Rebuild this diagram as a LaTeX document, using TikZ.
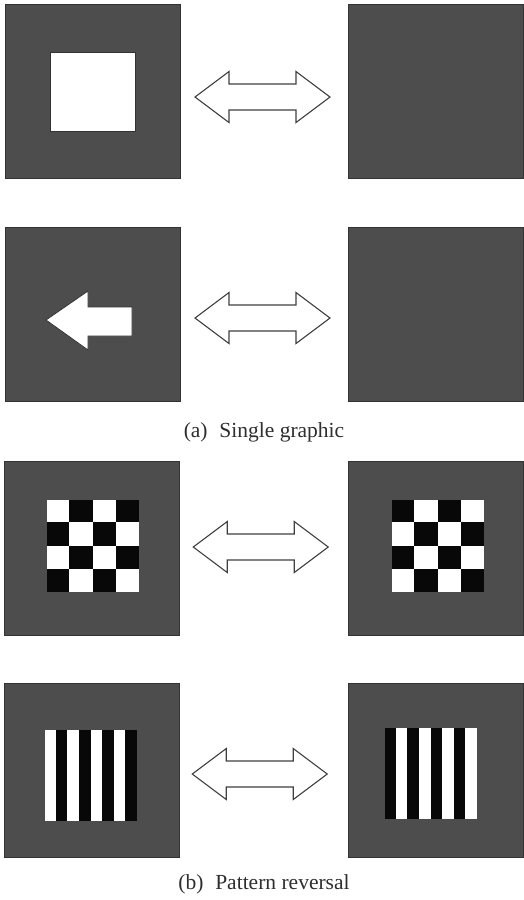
\documentclass[tikz,border=0pt]{standalone}
\usepackage{fontspec}
\setmainfont{Liberation Serif}
\usetikzlibrary{calc}
\definecolor{panelgray}{HTML}{4D4D4D}
\definecolor{paneledge}{HTML}{333333}
\definecolor{chkblack}{HTML}{080808}
\definecolor{arrowedge}{HTML}{404040}
\tikzset{
  panel/.style={draw=paneledge, fill=panelgray, line width=0.8pt, minimum width=175pt, minimum height=174pt, inner sep=0pt, outer sep=0pt},
  caption/.style={font=\fontsize{21.5}{24}\selectfont, text=black!82, inner sep=0pt},
  figedge/.style={draw=black!80, line width=0.8pt},
  pics/dblarrow/.style={code={
    \draw[draw=arrowedge, fill=white, line width=1.1pt, line join=miter]
      (-67.5,0) -- (-33.5,-25.5) -- (-33.5,-13) -- (33.5,-13) -- (33.5,-25.5)
      -- (67.5,0) -- (33.5,25.5) -- (33.5,13) -- (-33.5,13) -- (-33.5,25.5) -- cycle;
  }}
}
\begin{document}
\begin{tikzpicture}[x=1pt, y=-1pt]
\useasboundingbox (0,0) rectangle (523,900);
% row 1
\node[panel] (p1) at (92.5,91) {};
\node[panel] (p2) at (435.5,91) {};
\draw[figedge, fill=white] (50,52) rectangle (135,131);
\pic at ($(p1.east)!0.5!(p2.west)+(-1.5,6)$) {dblarrow};
% row 2
\node[panel] (p3) at (92.5,314) {};
\node[panel] (p4) at (435.5,314) {};
\draw[figedge, fill=white, line join=miter] (46,320) -- (88,291) -- (88,307) -- (132,307) -- (132,336) -- (88,336) -- (88,350) -- cycle;
\pic at ($(p3.east)!0.5!(p4.west)+(-1.5,4)$) {dblarrow};
\node[caption] (capa) at (264,432) {(a)\hspace{0.55em}Single graphic};
% row 3
\node[panel] (p5) at (91.5,548.5) {};
\node[panel] (p6) at (436,548.5) {};
\foreach \i in {0,...,3}{
  \foreach \j in {0,...,3}{
    \pgfmathtruncatemacro{\pty}{mod(\i+\j,2)}
    \ifnum\pty=0
      \fill[white] ({46+23.25*\i},{499+23.25*\j}) rectangle ++(23.25,23.25);
      \fill[chkblack] ({391+23.25*\i},{499+23.25*\j}) rectangle ++(23.25,23.25);
    \else
      \fill[chkblack] ({46+23.25*\i},{499+23.25*\j}) rectangle ++(23.25,23.25);
      \fill[white] ({391+23.25*\i},{499+23.25*\j}) rectangle ++(23.25,23.25);
    \fi
  }
}
\draw[black!70, line width=0.5pt] (46,499) rectangle (139,592);
\draw[black!70, line width=0.5pt] (391,499) rectangle (484,592);
\pic at ($(p5.east)!0.5!(p6.west)+(-3,-1.5)$) {dblarrow};
% row 4
\node[panel] (p7) at (91.5,770.5) {};
\node[panel] (p8) at (436,770.5) {};
\foreach \k in {0,...,7}{
  \pgfmathtruncatemacro{\pty}{mod(\k,2)}
  \ifnum\pty=0
    \fill[white] ({44+11.625*\k},729) rectangle ++(11.625,92);
    \fill[chkblack] ({384+11.625*\k},727) rectangle ++(11.625,92);
  \else
    \fill[chkblack] ({44+11.625*\k},729) rectangle ++(11.625,92);
    \fill[white] ({384+11.625*\k},727) rectangle ++(11.625,92);
  \fi
}
\draw[black!70, line width=0.5pt] (44,729) rectangle (137,821);
\draw[black!70, line width=0.5pt] (384,727) rectangle (477,819);
\pic at ($(p7.east)!0.5!(p8.west)+(-4,3.5)$) {dblarrow};
\node[caption] (capb) at (264,884) {(b)\hspace{0.55em}Pattern reversal};
\end{tikzpicture}
\end{document}
